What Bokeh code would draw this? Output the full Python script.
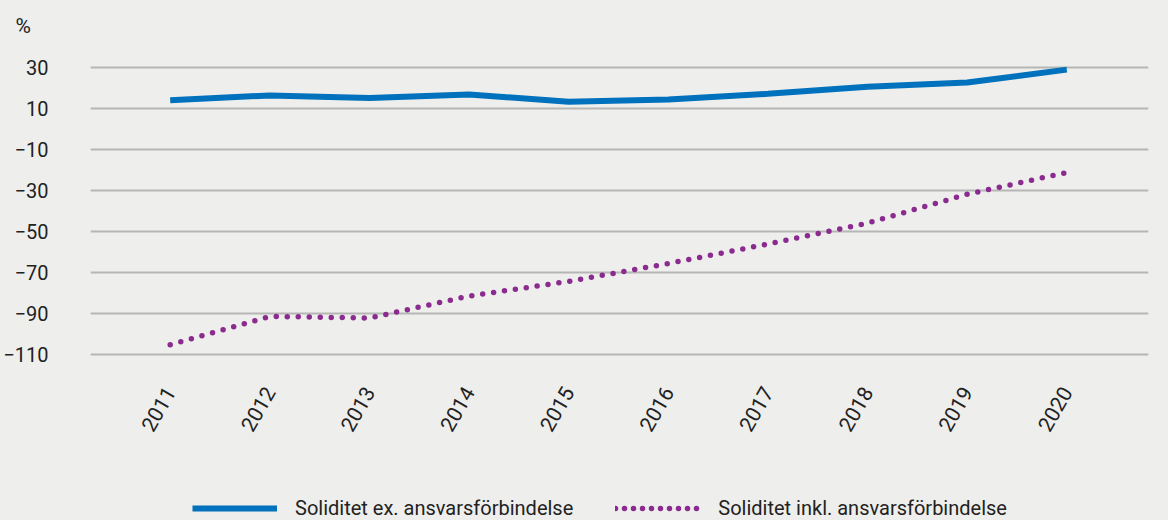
from bokeh.plotting import figure
from bokeh.layouts import column
from bokeh.models import ColumnDataSource, Legend, LegendItem, FixedTicker, Range1d
from bokeh.embed import file_html
from bokeh.resources import INLINE

years = [2011, 2012, 2013, 2014, 2015, 2016, 2017, 2018, 2019, 2020]
ex_ansvar = [13.8, 16.2, 15.0, 16.7, 13.1, 14.2, 17.0, 20.4, 22.5, 28.8]
inkl_ansvar = [-105.4, -91.6, -92.4, -81.7, -74.5, -65.8, -56.3, -46.1, -32.0, -21.4]
y_ticks = [30, 10, -10, -30, -50, -70, -90, -110]
series_names = ["Soliditet ex. ansvarsförbindelse", "Soliditet inkl. ansvarsförbindelse"]
unit_label = "%"

FONT = "Roboto"
BG = "#eeeeec"
TXT = "#222222"
BLUE = "#0071bc"
PURPLE = "#8b2b8f"

src = ColumnDataSource(dict(year=years, ex=ex_ansvar, inkl=inkl_ansvar))

p = figure(width=1168, height=484, output_backend="svg", toolbar_location=None,
           x_range=Range1d(2011 - 0.8, 2020 + 0.82), y_range=Range1d(-118, 43),
           min_border_left=88, min_border_right=20, min_border_top=40, min_border_bottom=114,
           title=unit_label)
p.background_fill_alpha = 0
p.border_fill_color = BG
p.outline_line_color = None

p.title.text_font = FONT
p.title.text_font_size = "21px"
p.title.text_font_style = "normal"
p.title.text_color = TXT
p.title.align = "left"
p.title.offset = -75
p.title.standoff = 5

p.line("year", "ex", source=src, line_color=BLUE, line_width=6)
p.line("year", "inkl", source=src, line_color=PURPLE, line_width=5.5,
       line_dash="0 11", line_cap="round")

p.yaxis.ticker = FixedTicker(ticks=y_ticks)
p.xaxis.ticker = FixedTicker(ticks=years)
for ax in (p.xaxis, p.yaxis):
    ax.axis_line_color = None
    ax.major_tick_line_color = None
    ax.minor_tick_line_color = None
    ax.major_tick_out = 0
    ax.major_tick_in = 0
    ax.minor_tick_out = 0
    ax.minor_tick_in = 0
    ax.major_label_text_font = FONT
    ax.major_label_text_color = TXT
p.yaxis.major_label_text_font_size = "20px"
p.xaxis.major_label_text_font_size = "21px"
p.yaxis.major_label_standoff = 42
p.xaxis.major_label_orientation = 1.05
p.xaxis.major_label_standoff = 18

p.xgrid.grid_line_color = None
p.ygrid.grid_line_color = "#b6b6b6"
p.ygrid.grid_line_width = 2

# legend strip
lg = figure(width=1168, height=36, output_backend="svg", toolbar_location=None,
            x_range=Range1d(0, 1), y_range=Range1d(0, 1),
            x_axis_type=None, y_axis_type=None, min_border=0)
lg.background_fill_alpha = 0
lg.border_fill_color = BG
lg.outline_line_color = None
lg.grid.visible = False
d1 = lg.line(x=[0, 1], y=[-10, -10], line_color=BLUE, line_width=6)
d2 = lg.line(x=[0, 1], y=[-10, -10], line_color=PURPLE, line_width=5.5,
             line_dash="0 9", line_cap="round")
legend = Legend(items=[LegendItem(label=series_names[0], renderers=[d1]),
                       LegendItem(label=series_names[1], renderers=[d2])],
                orientation="horizontal", location=(102, 0),
                glyph_width=85, glyph_height=22, label_standoff=18, spacing=42,
                label_text_font=FONT, label_text_font_size="20px", label_text_color=TXT,
                background_fill_alpha=0, border_line_color=None, padding=0, margin=0)
lg.add_layout(legend, "center")

layout = column(p, lg, spacing=0, styles={"background-color": BG})
open("out.html", "w").write(file_html(layout, INLINE))
